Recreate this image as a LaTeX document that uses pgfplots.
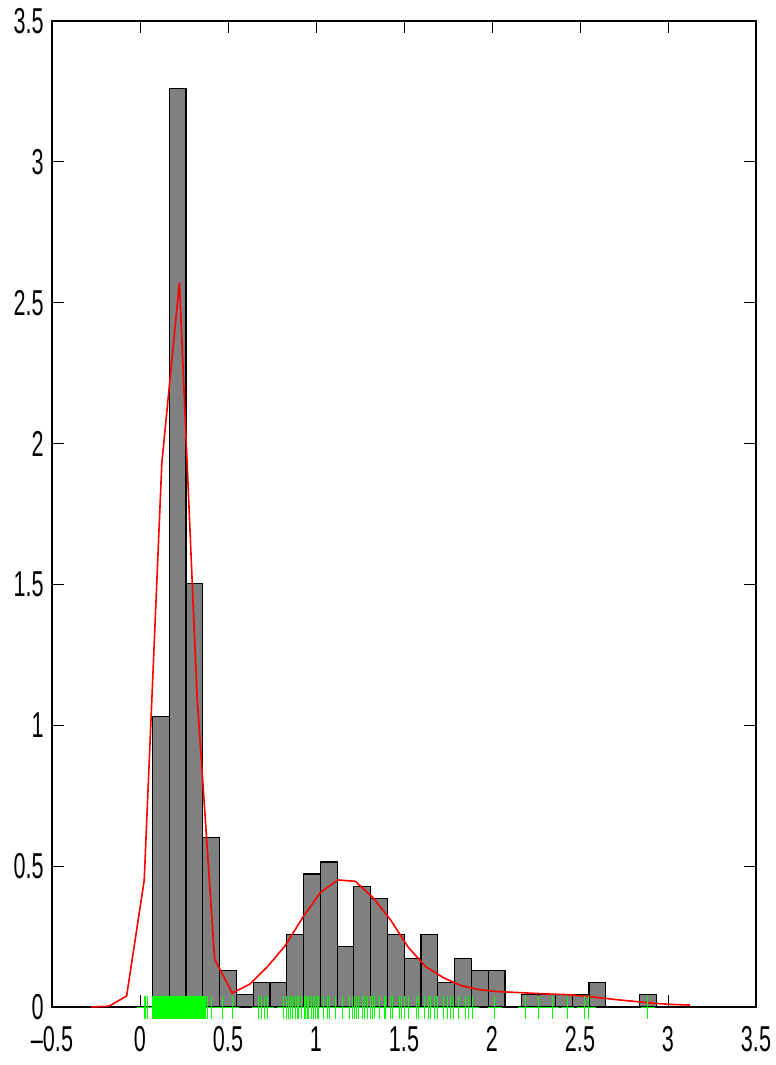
\documentclass[border=0pt]{standalone}
\usepackage{fontspec}
\setmainfont{Liberation Sans}[FakeStretch=0.6]
\usepackage{pgfplots}
\usepackage{pgfplotstable}
\pgfplotsset{compat=1.18}
\usetikzlibrary{plotmarks}
\definecolor{rugcol}{RGB}{0,255,0}
\definecolor{barfill}{RGB}{128,128,128}

\pgfplotstableread{
x y
0.023 0
0.032 0
0.045 0
0.070 0
0.075 0
0.080 0
0.085 0
0.090 0
0.095 0
0.100 0
0.105 0
0.110 0
0.115 0
0.120 0
0.125 0
0.130 0
0.135 0
0.140 0
0.145 0
0.150 0
0.155 0
0.160 0
0.165 0
0.170 0
0.175 0
0.180 0
0.185 0
0.190 0
0.195 0
0.200 0
0.205 0
0.210 0
0.215 0
0.220 0
0.225 0
0.230 0
0.235 0
0.240 0
0.245 0
0.250 0
0.255 0
0.260 0
0.265 0
0.270 0
0.275 0
0.280 0
0.285 0
0.290 0
0.295 0
0.300 0
0.305 0
0.310 0
0.315 0
0.320 0
0.325 0
0.330 0
0.335 0
0.340 0
0.345 0
0.350 0
0.355 0
0.360 0
0.365 0
0.370 0
0.383 0
0.407 0
0.468 0
0.525 0
0.676 0
0.690 0
0.705 0
0.724 0
0.818 0
0.832 0
0.843 0
0.856 0
0.869 0
0.885 0
0.894 0
0.903 0
0.919 0
0.932 0
0.941 0
0.951 0
0.960 0
0.974 0
0.985 0
0.998 0
1.008 0
1.017 0
1.040 0
1.065 0
1.074 0
1.108 0
1.150 0
1.188 0
1.207 0
1.220 0
1.231 0
1.244 0
1.264 0
1.277 0
1.293 0
1.311 0
1.321 0
1.334 0
1.358 0
1.387 0
1.396 0
1.421 0
1.435 0
1.472 0
1.485 0
1.500 0
1.528 0
1.572 0
1.585 0
1.618 0
1.639 0
1.652 0
1.676 0
1.693 0
1.724 0
1.747 0
1.765 0
1.784 0
1.812 0
1.851 0
1.864 0
1.889 0
2.017 0
2.188 0
2.267 0
2.343 0
2.428 0
2.523 0
2.551 0
2.886 0
}\rugdata

\begin{document}
\begin{tikzpicture}
\begin{axis}[
  name=ax,
  scale only axis,
  width=352pt, height=493pt,
  xmin=-0.5, xmax=3.5, ymin=0, ymax=3.5,
  xtick={-0.5,0,0.5,1,1.5,2,2.5,3,3.5},
  xticklabels={\textendash0.5,0,0.5,1,1.5,2,2.5,3,3.5},
  ytick={0,0.5,1,1.5,2,2.5,3,3.5},
  yticklabels={0,0.5,1,1.5,2,2.5,3,3.5},
  tick align=inside,
  major tick length=6pt,
  tick style={black, line width=0.5pt},
  axis line style={black, line width=0.8pt},
  clip=false,
  tick label style={font=\fontsize{18pt}{20pt}\selectfont},
  xticklabel style={inner sep=0pt, yshift=-9.5pt},
  yticklabel style={inner sep=0pt, xshift=-4pt},
]
\addplot[ybar interval, fill=barfill, draw=black, line width=0.6pt] coordinates {
(0.0705,1.030) (0.1659,3.260) (0.2613,1.502) (0.3567,0.601) (0.4521,0.129)
(0.5475,0.043) (0.6429,0.086) (0.7383,0.086) (0.8337,0.257) (0.9291,0.472)
(1.0245,0.515) (1.1199,0.215) (1.2153,0.429) (1.3107,0.386) (1.4061,0.257)
(1.5015,0.172) (1.5969,0.257) (1.6923,0.086) (1.7877,0.172) (1.8831,0.129)
(1.9785,0.129) (2.0739,0.000) (2.1693,0.043) (2.2647,0.043) (2.3601,0.043)
(2.4555,0.043) (2.5509,0.086) (2.6463,0.000) (2.7417,0.000) (2.8371,0.043)
(2.9325,0.043)
};
\addplot[red, line width=0.8pt, mark=none] coordinates {
(-0.276,0.000) (-0.176,0.003) (-0.076,0.039) (0.024,0.450) (0.124,1.930)
(0.224,2.572) (0.324,1.107) (0.424,0.170) (0.524,0.050) (0.624,0.081)
(0.724,0.143) (0.824,0.217) (0.924,0.317) (1.024,0.406) (1.124,0.451)
(1.224,0.446) (1.324,0.388) (1.424,0.309) (1.524,0.212) (1.624,0.143)
(1.724,0.104) (1.824,0.076) (1.924,0.062) (2.024,0.055) (2.124,0.052)
(2.224,0.049) (2.324,0.046) (2.424,0.044) (2.524,0.039) (2.624,0.032)
(2.724,0.025) (2.824,0.019) (2.924,0.013) (3.024,0.009) (3.124,0.007)
};
\addplot[only marks, color=rugcol, mark=|, mark size=5.75pt, mark options={line width=0.5pt}] table[x=x, y=y] {\rugdata};
\addplot[only marks, color=rugcol, mark=-, mark size=3.35pt, mark options={line width=0.5pt}] table[x=x, y=y] {\rugdata};
\end{axis}
\pgfresetboundingbox
\path ([xshift=-26pt,yshift=-29pt]ax.south west) rectangle ([xshift=10pt,yshift=10.5pt]ax.north east);
\end{tikzpicture}
\end{document}
